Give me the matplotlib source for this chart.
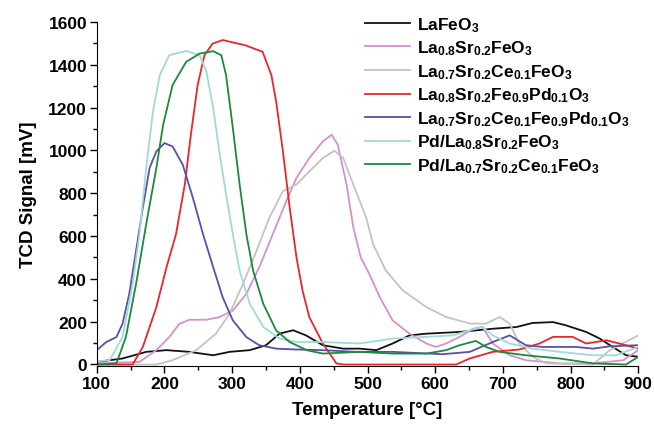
import matplotlib
matplotlib.use("Agg")
import matplotlib.pyplot as plt
from matplotlib.ticker import MultipleLocator

plt.rcParams["font.family"] = ["Liberation Sans", "DejaVu Sans"]
plt.rcParams["font.weight"] = "bold"
plt.rcParams["mathtext.fontset"] = "custom"
plt.rcParams["mathtext.default"] = "bf"
plt.rcParams["mathtext.bf"] = "Liberation Sans:bold"
plt.rcParams["mathtext.rm"] = "Liberation Sans:bold"

# temperature [°C] / TCD signal [mV]
lafeo3_t = [100, 138, 173, 203, 237, 272, 296, 326, 350, 370, 390, 409, 434, 464, 488,
            513, 537, 562, 587, 636, 685, 720, 744, 774, 793, 823, 843, 862, 882, 900]
lafeo3_v = [12, 28, 59, 67, 59, 43, 59, 67, 90, 144, 160, 136, 90, 74, 74,
            67, 98, 136, 144, 152, 167, 175, 194, 198, 183, 152, 121, 82, 43, 36]

lsf_t = [100, 163, 188, 207, 222, 237, 262, 281, 301, 321, 340, 360, 380, 395, 414,
         434, 447, 456, 469, 479, 490, 503, 518, 537, 562, 587, 601, 616, 636, 656,
         670, 685, 710, 734, 784, 833, 878, 900]
lsf_v = [5, 12, 67, 128, 190, 209, 209, 221, 252, 330, 454, 608, 763, 871, 964,
         1042, 1073, 1026, 840, 640, 500, 420, 315, 206, 144, 98, 82, 98, 129, 167,
         175, 98, 43, 20, 5, 5, 20, 67]

lscf_t = [100, 188, 212, 247, 276, 296, 316, 336, 355, 375, 395, 414, 434, 451, 464,
          479, 498, 508, 527, 552, 587, 616, 651, 675, 695, 710, 724, 744, 764, 833,
          858, 900]
lscf_v = [0, 0, 20, 67, 144, 237, 376, 531, 686, 810, 840, 902, 964, 998, 964,
          840, 686, 563, 439, 346, 268, 222, 191, 191, 222, 191, 98, 36, 5, 0,
          67, 136]

lsfp_t = [100, 153, 168, 188, 203, 217, 230, 239, 249, 259, 271, 286, 320, 345, 358,
          365, 375, 385, 395, 404, 414, 434, 454, 464, 631, 651, 685, 724, 754, 774,
          803, 823, 853, 872, 900]
lsfp_v = [0, 0, 82, 268, 454, 608, 840, 1073, 1305, 1444, 1498, 1515, 1490, 1460, 1350,
          1228, 995, 732, 500, 345, 221, 98, 5, 0, 0, 28, 59, 70, 98, 129,
          129, 98, 113, 98, 74]

lscfp_t = [100, 114, 129, 138, 148, 158, 168, 178, 188, 200, 212, 227, 242, 257, 272,
           286, 301, 321, 340, 365, 395, 434, 483, 537, 611, 651, 685, 710, 734, 759,
           808, 833, 858, 900]
lscfp_v = [67, 105, 128, 190, 330, 531, 732, 918, 995, 1034, 1018, 933, 778, 608, 454,
           314, 206, 128, 90, 74, 70, 67, 59, 59, 48, 59, 105, 136, 90, 82,
           82, 74, 85, 90]

pd_lsf_t = [100, 119, 138, 153, 163, 173, 183, 193, 207, 232, 252, 262, 272, 281, 291,
            301, 311, 326, 346, 370, 395, 434, 488, 537, 587, 626, 651, 670, 685, 710,
            744, 784, 833, 867, 900]
pd_lsf_v = [15, 20, 128, 376, 608, 918, 1181, 1351, 1444, 1464, 1444, 1367, 1197, 995, 794,
            608, 438, 283, 175, 121, 105, 105, 98, 121, 129, 136, 160, 175, 136, 98,
            74, 59, 43, 43, 82]

pd_lscf_t = [100, 129, 143, 158, 173, 188, 198, 212, 232, 252, 272, 284, 291, 301, 311,
             321, 331, 346, 365, 385, 410, 434, 488, 537, 587, 616, 636, 660, 675, 695,
             734, 784, 833, 882, 900]
pd_lscf_v = [0, 5, 128, 376, 655, 918, 1119, 1305, 1413, 1452, 1463, 1444, 1351, 1104, 841,
             608, 438, 283, 159, 105, 67, 51, 59, 51, 51, 67, 90, 110, 82, 59,
             43, 28, 5, 0, 36]

series = [
    (lafeo3_t, lafeo3_v, "#111111", r"LaFeO$_3$"),
    (lsf_t, lsf_v, "#d291cf", r"La$_{0.8}$Sr$_{0.2}$FeO$_3$"),
    (lscf_t, lscf_v, "#c3c3c3", r"La$_{0.7}$Sr$_{0.2}$Ce$_{0.1}$FeO$_3$"),
    (lsfp_t, lsfp_v, "#e8262b", r"La$_{0.8}$Sr$_{0.2}$Fe$_{0.9}$Pd$_{0.1}$O$_3$"),
    (lscfp_t, lscfp_v, "#5b4fa6", r"La$_{0.7}$Sr$_{0.2}$Ce$_{0.1}$Fe$_{0.9}$Pd$_{0.1}$O$_3$"),
    (pd_lsf_t, pd_lsf_v, "#9fdada", r"Pd/La$_{0.8}$Sr$_{0.2}$FeO$_3$"),
    (pd_lscf_t, pd_lscf_v, "#1c8a3a", r"Pd/La$_{0.7}$Sr$_{0.2}$Ce$_{0.1}$FeO$_3$"),
]

fig = plt.figure(figsize=(6.54, 4.31), dpi=100)
ax = fig.add_axes([0.148, 0.148, 0.828, 0.799])

for t, v, c, lab in series:
    ax.plot(t, v, color=c, lw=1.3, label=lab)

ax.set_xlim(100, 900)
ax.set_ylim(-8, 1600)
ax.xaxis.set_major_locator(MultipleLocator(100))
ax.xaxis.set_minor_locator(MultipleLocator(50))
ax.yaxis.set_major_locator(MultipleLocator(200))
ax.yaxis.set_minor_locator(MultipleLocator(100))
ax.tick_params(which="both", direction="out", width=1, labelsize=12.5, pad=2)
ax.tick_params(which="major", length=5)
ax.tick_params(which="minor", length=3)
ax.spines["top"].set_visible(False)
ax.spines["right"].set_visible(False)
ax.spines["left"].set_bounds(0, 1600)

ax.set_xlabel("Temperature [°C]", fontsize=13.5, fontweight="bold", labelpad=7)
ax.set_ylabel("TCD Signal [mV]", fontsize=13.5, fontweight="bold", labelpad=8)

ax.legend(loc="upper left", bbox_to_anchor=(0.495, 1.02), frameon=False,
          fontsize=12.5, handlelength=2.6, handletextpad=0.4, labelspacing=0.28,
          borderpad=0, borderaxespad=0)

fig.savefig("out.png", dpi=100)
